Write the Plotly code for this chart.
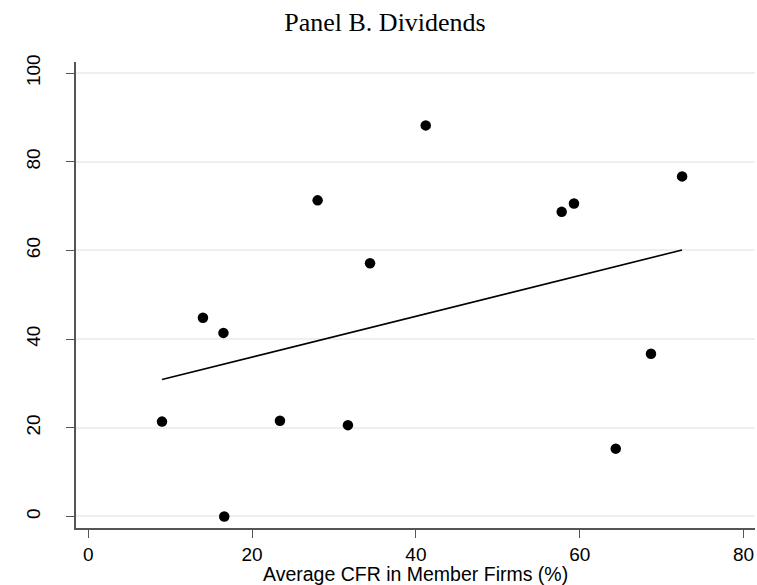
import plotly.graph_objects as go

# Data
cfr = [9.0, 14.0, 16.5, 23.4, 16.6, 31.7, 28.0, 34.4, 41.2, 57.8, 59.3, 72.5, 68.7, 64.4]
dividends = [21.4, 44.8, 41.4, 21.6, 0.0, 20.6, 71.3, 57.1, 88.2, 68.7, 70.6, 76.7, 36.7, 15.3]
fit_x = [9.0, 72.5]
fit_y = [30.9, 60.1]
x_ticks = [0, 20, 40, 60, 80]
y_ticks = [0, 20, 40, 60, 80, 100]
x_title = "Average CFR in Member Firms (%)"

W, H = 757, 585

fig = go.Figure()
fig.add_trace(go.Scatter(x=cfr, y=dividends, mode="markers",
                         marker=dict(color="black", size=10.5), showlegend=False))
fig.add_trace(go.Scatter(x=fit_x, y=fit_y, mode="lines",
                         line=dict(color="black", width=1.6), showlegend=False))

fig.update_layout(
    width=W, height=H,
    paper_bgcolor="white", plot_bgcolor="white",
    margin=dict(l=76, r=2, t=62, b=57, autoexpand=False),
    title=dict(text="Panel B. Dividends", x=385 / W, xref="container", xanchor="center",
               y=1 - 22 / H, yref="container", yanchor="middle",
               font=dict(family="Liberation Serif", size=26, color="black")),
    font=dict(family="Liberation Sans", color="black"),
)
fig.add_annotation(text=x_title, xref="paper", yref="paper", x=0.5, xanchor="center",
                   y=-(574 - 528) / (585 - 62 - 57), yanchor="middle", showarrow=False,
                   font=dict(size=19.5, color="black"))
fig.update_xaxes(range=[-1.5, 81.4], tickvals=x_ticks, ticks="outside", ticklen=8,
                 tickcolor="#555555", tickwidth=1.3, showline=True, linecolor="#555555",
                 linewidth=1.5, showgrid=False, zeroline=False, automargin=False,
                 ticklabelstandoff=0,
                 tickfont=dict(size=19, color="black"))
fig.update_yaxes(range=[-2.6, 102.5], tickvals=y_ticks, ticks="outside", ticklen=8,
                 tickcolor="#555555", tickwidth=1.3, showline=True, linecolor="#555555",
                 linewidth=1.5, showgrid=True, gridcolor="#eaf0f4", gridwidth=1.5,
                 zeroline=False, tickangle=-90, automargin=False,
                 ticklabelstandoff=19,
                 tickfont=dict(size=19, color="black"))

fig.write_html("out.html", config={"displayModeBar": False},
               post_script="document.body.style.margin='0';document.body.style.overflow='hidden';")
